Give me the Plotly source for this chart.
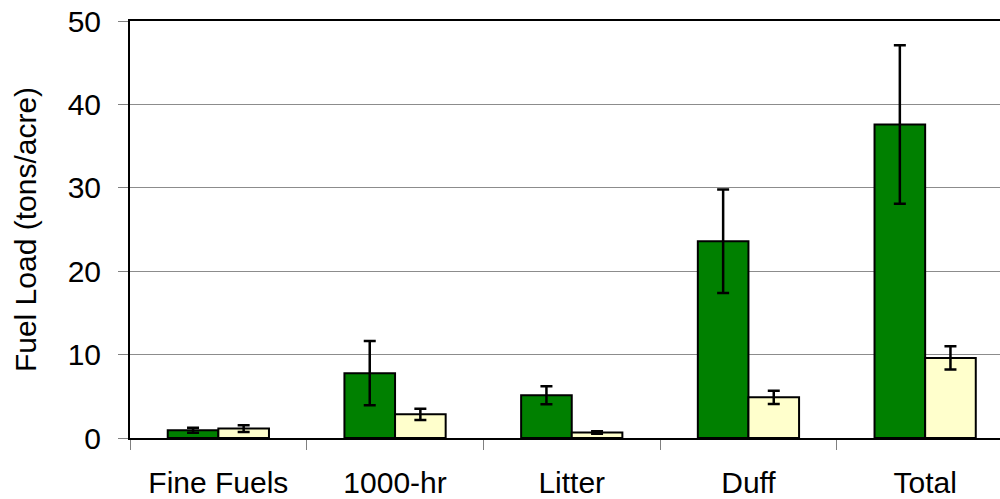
import plotly.graph_objects as go

categories = ["Fine Fuels", "1000-hr", "Litter", "Duff", "Total"]
series_a = [0.92, 7.77, 5.12, 23.6, 37.6]
series_a_err = [0.3, 3.85, 1.08, 6.2, 9.5]
series_b = [1.13, 2.84, 0.65, 4.88, 9.6]
series_b_err = [0.4, 0.68, 0.15, 0.8, 1.4]
y_ticks = [0, 10, 20, 30, 40, 50]

font_family = "Liberation Sans, Arial, sans-serif"

fig = go.Figure()
fig.add_trace(go.Bar(
    x=categories, y=series_a, name="A",
    marker=dict(color="#008000", line=dict(color="#000000", width=2)),
    error_y=dict(type="data", array=series_a_err, visible=True,
                 color="#000000", thickness=2.5, width=6),
))
fig.add_trace(go.Bar(
    x=categories, y=series_b, name="B",
    marker=dict(color="#FFFFCC", line=dict(color="#000000", width=2)),
    error_y=dict(type="data", array=series_b_err, visible=True,
                 color="#000000", thickness=2.5, width=6),
))

fig.update_layout(
    width=1000, height=499,
    margin=dict(l=130, r=0, t=21, b=61),
    paper_bgcolor="white", plot_bgcolor="white",
    barmode="group", bargap=0.427, bargroupgap=0,
    showlegend=False,
    font=dict(family=font_family, size=30, color="#000000"),
)
fig.update_xaxes(
    type="category", automargin=False,
    range=[-0.5, 4.4236],
    showline=True, linecolor="#000000", linewidth=2, mirror=True,
    ticks="outside", tickson="boundaries", ticklen=10, tickcolor="#808080", tickwidth=1,
    ticklabelstandoff=17,
    tickfont=dict(size=30, family=font_family, color="#000000"),
    showgrid=False,
)
fig.update_yaxes(
    range=[0, 50], tickvals=y_ticks, automargin=False,
    showline=True, linecolor="#000000", linewidth=2,
    ticks="outside", ticklen=10, tickcolor="#808080", tickwidth=1,
    ticklabelstandoff=11,
    showgrid=True, gridcolor="#8c8c8c", gridwidth=1,
    zeroline=False,
    tickfont=dict(size=30, family=font_family, color="#000000"),
    title=dict(text="Fuel Load (tons/acre)", standoff=22,
               font=dict(size=30, family=font_family, color="#000000")),
)

fig.write_html(
    "out.html",
    config={"displayModeBar": False},
    post_script="document.body.style.margin='0';document.body.style.overflow='hidden';",
)
